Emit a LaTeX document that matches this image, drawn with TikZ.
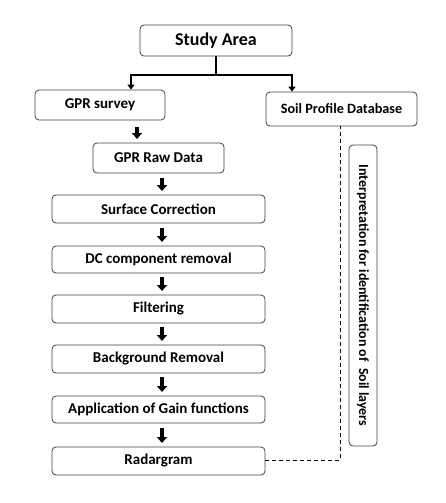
\documentclass[tikz,border=0pt]{standalone}
\usepackage{fontspec}
\setmainfont{Carlito}
\usetikzlibrary{arrows.meta,positioning}
\begin{document}
\begin{tikzpicture}[x=1pt,y=-1pt,
  box/.style={draw=black!75,line width=0.8pt,rounded corners=4pt,inner sep=0pt,font=\bfseries\fontsize{15}{17}\selectfont},
  fatarrow/.style={line width=3.4pt,-{Triangle[width=10pt,length=6pt]}},
  thinarrow/.style={line width=2pt,-{Triangle[width=7pt,length=5pt]}},
  dashline/.style={line width=1pt,dashed,dash pattern=on 4pt off 3pt}]
\useasboundingbox (0,0) rectangle (446,503);
\node[box,minimum width=152pt,minimum height=31pt,font=\bfseries\fontsize{18}{20}\selectfont] (study) at (216,40.5) {Study Area};
\node[box,minimum width=130pt,minimum height=30pt] (survey) at (100,105) {GPR survey};
\node[box,minimum width=151pt,minimum height=34pt,font=\bfseries\fontsize{14.2}{16}\selectfont] (soil) at (341.5,109) {Soil Profile Database};
\node[box,minimum width=131pt,minimum height=30pt] (raw) at (158.5,158) {GPR Raw Data};
\node[box,minimum width=213pt,minimum height=28pt] (surf) at (158.5,209) {Surface Correction};
\node[box,minimum width=213pt,minimum height=27pt] (dc) at (158.5,259.5) {DC component removal};
\node[box,minimum width=213pt,minimum height=28pt] (filt) at (158.5,309) {Filtering};
\node[box,minimum width=213pt,minimum height=28pt] (bg) at (158.5,359) {Background Removal};
\node[box,minimum width=213pt,minimum height=27pt] (gain) at (158.5,409.5) {Application of Gain functions};
\node[box,minimum width=213pt,minimum height=28pt] (radar) at (158.5,461) {Radargram};
\node[box,minimum width=28pt,minimum height=301pt] (interp) at (363,295.5) {};
\node[rotate=-90,font=\bfseries\fontsize{14}{16}\selectfont] (itext) at (interp.center) {Interpretation for identification of\ \ Soil layers};
% study area split
\coordinate (split) at (216,75);
\coordinate (lsplit) at (131,75);
\coordinate (rsplit) at (292,75);
\draw[line width=2pt] (study.south) -- (split);
\draw[line width=2pt] (lsplit) -- (rsplit);
\draw[thinarrow] (lsplit) ++(0,-1) -- (survey.north -| lsplit);
\draw[thinarrow] (rsplit) ++(0,-1) -- (soil.north -| rsplit);
% fat arrows
\draw[fatarrow] (137,127) -- (137,139);
\draw[fatarrow] (162,178) -- (162,191);
\draw[fatarrow] (162,228) -- (162,242);
\draw[fatarrow] (162,277) -- (162,291);
\draw[fatarrow] (162,327) -- (162,341);
\draw[fatarrow] (162,377) -- (162,392);
\draw[fatarrow] (162,428) -- (162,443);
% dashed link
\coordinate (corner) at (340,460);
\draw[dashline] (radar.east |- corner) -- (corner) -- (soil.south -| corner);
\end{tikzpicture}
\end{document}
